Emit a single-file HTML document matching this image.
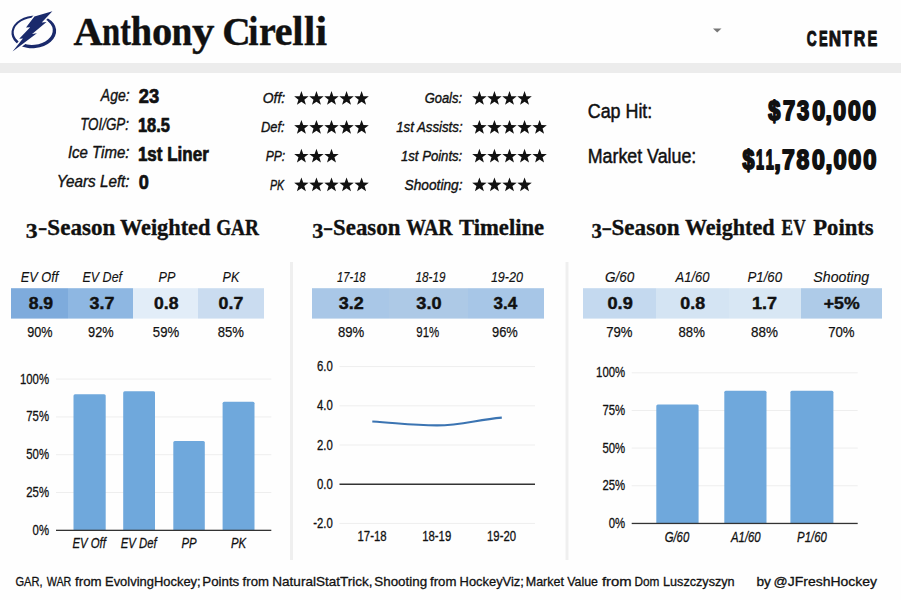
<!DOCTYPE html>
<html><head><meta charset="utf-8"><style>
html,body{margin:0;padding:0;background:#fff;width:901px;height:600px;overflow:hidden}
svg{display:block}
</style></head><body>
<svg width="901" height="600" viewBox="0 0 901 600">
<rect width="901" height="600" fill="#fefefe"/>
<rect x="0.00" y="63.00" width="901.00" height="10.00" fill="#ececec"/>
<g>
<g transform="rotate(-6 33.7 31.8)">
<ellipse cx="33.8" cy="31.9" rx="22.4" ry="16.3" fill="#1a2a6c"/>
<ellipse cx="33.3" cy="31.3" rx="19.6" ry="13.6" fill="#fefefe"/>
</g>
<path d="M52.4,11.2 L34.4,16.6 L26,27.6 L30.2,27.2 L19.2,38.8 L22.9,38.4 L12.6,51.6 L36.9,33.3 L32.1,33.9 L46.5,21.9 L41.7,22.4 Z" fill="#fefefe" stroke="#fefefe" stroke-width="3.2" stroke-linejoin="round"/>
<path d="M52.4,11.2 L34.4,16.6 L26,27.6 L30.2,27.2 L19.2,38.8 L22.9,38.4 L12.6,51.6 L36.9,33.3 L32.1,33.9 L46.5,21.9 L41.7,22.4 Z" fill="#1a2a6c"/>
</g>
<polygon points="713,28.6 721.5,28.6 717.2,32.6" fill="#777"/>
<path transform="translate(301.40,98.70)" d="M0.00,-7.60 L1.83,-2.52 L7.23,-2.35 L2.96,0.96 L4.47,6.15 L0.00,3.12 L-4.47,6.15 L-2.96,0.96 L-7.23,-2.35 L-1.83,-2.52 Z" fill="#111"/>
<path transform="translate(316.45,98.70)" d="M0.00,-7.60 L1.83,-2.52 L7.23,-2.35 L2.96,0.96 L4.47,6.15 L0.00,3.12 L-4.47,6.15 L-2.96,0.96 L-7.23,-2.35 L-1.83,-2.52 Z" fill="#111"/>
<path transform="translate(331.50,98.70)" d="M0.00,-7.60 L1.83,-2.52 L7.23,-2.35 L2.96,0.96 L4.47,6.15 L0.00,3.12 L-4.47,6.15 L-2.96,0.96 L-7.23,-2.35 L-1.83,-2.52 Z" fill="#111"/>
<path transform="translate(346.55,98.70)" d="M0.00,-7.60 L1.83,-2.52 L7.23,-2.35 L2.96,0.96 L4.47,6.15 L0.00,3.12 L-4.47,6.15 L-2.96,0.96 L-7.23,-2.35 L-1.83,-2.52 Z" fill="#111"/>
<path transform="translate(361.60,98.70)" d="M0.00,-7.60 L1.83,-2.52 L7.23,-2.35 L2.96,0.96 L4.47,6.15 L0.00,3.12 L-4.47,6.15 L-2.96,0.96 L-7.23,-2.35 L-1.83,-2.52 Z" fill="#111"/>
<path transform="translate(479.40,98.70)" d="M0.00,-7.60 L1.83,-2.52 L7.23,-2.35 L2.96,0.96 L4.47,6.15 L0.00,3.12 L-4.47,6.15 L-2.96,0.96 L-7.23,-2.35 L-1.83,-2.52 Z" fill="#111"/>
<path transform="translate(494.45,98.70)" d="M0.00,-7.60 L1.83,-2.52 L7.23,-2.35 L2.96,0.96 L4.47,6.15 L0.00,3.12 L-4.47,6.15 L-2.96,0.96 L-7.23,-2.35 L-1.83,-2.52 Z" fill="#111"/>
<path transform="translate(509.50,98.70)" d="M0.00,-7.60 L1.83,-2.52 L7.23,-2.35 L2.96,0.96 L4.47,6.15 L0.00,3.12 L-4.47,6.15 L-2.96,0.96 L-7.23,-2.35 L-1.83,-2.52 Z" fill="#111"/>
<path transform="translate(524.55,98.70)" d="M0.00,-7.60 L1.83,-2.52 L7.23,-2.35 L2.96,0.96 L4.47,6.15 L0.00,3.12 L-4.47,6.15 L-2.96,0.96 L-7.23,-2.35 L-1.83,-2.52 Z" fill="#111"/>
<path transform="translate(301.40,127.60)" d="M0.00,-7.60 L1.83,-2.52 L7.23,-2.35 L2.96,0.96 L4.47,6.15 L0.00,3.12 L-4.47,6.15 L-2.96,0.96 L-7.23,-2.35 L-1.83,-2.52 Z" fill="#111"/>
<path transform="translate(316.45,127.60)" d="M0.00,-7.60 L1.83,-2.52 L7.23,-2.35 L2.96,0.96 L4.47,6.15 L0.00,3.12 L-4.47,6.15 L-2.96,0.96 L-7.23,-2.35 L-1.83,-2.52 Z" fill="#111"/>
<path transform="translate(331.50,127.60)" d="M0.00,-7.60 L1.83,-2.52 L7.23,-2.35 L2.96,0.96 L4.47,6.15 L0.00,3.12 L-4.47,6.15 L-2.96,0.96 L-7.23,-2.35 L-1.83,-2.52 Z" fill="#111"/>
<path transform="translate(346.55,127.60)" d="M0.00,-7.60 L1.83,-2.52 L7.23,-2.35 L2.96,0.96 L4.47,6.15 L0.00,3.12 L-4.47,6.15 L-2.96,0.96 L-7.23,-2.35 L-1.83,-2.52 Z" fill="#111"/>
<path transform="translate(361.60,127.60)" d="M0.00,-7.60 L1.83,-2.52 L7.23,-2.35 L2.96,0.96 L4.47,6.15 L0.00,3.12 L-4.47,6.15 L-2.96,0.96 L-7.23,-2.35 L-1.83,-2.52 Z" fill="#111"/>
<path transform="translate(479.40,127.60)" d="M0.00,-7.60 L1.83,-2.52 L7.23,-2.35 L2.96,0.96 L4.47,6.15 L0.00,3.12 L-4.47,6.15 L-2.96,0.96 L-7.23,-2.35 L-1.83,-2.52 Z" fill="#111"/>
<path transform="translate(494.45,127.60)" d="M0.00,-7.60 L1.83,-2.52 L7.23,-2.35 L2.96,0.96 L4.47,6.15 L0.00,3.12 L-4.47,6.15 L-2.96,0.96 L-7.23,-2.35 L-1.83,-2.52 Z" fill="#111"/>
<path transform="translate(509.50,127.60)" d="M0.00,-7.60 L1.83,-2.52 L7.23,-2.35 L2.96,0.96 L4.47,6.15 L0.00,3.12 L-4.47,6.15 L-2.96,0.96 L-7.23,-2.35 L-1.83,-2.52 Z" fill="#111"/>
<path transform="translate(524.55,127.60)" d="M0.00,-7.60 L1.83,-2.52 L7.23,-2.35 L2.96,0.96 L4.47,6.15 L0.00,3.12 L-4.47,6.15 L-2.96,0.96 L-7.23,-2.35 L-1.83,-2.52 Z" fill="#111"/>
<path transform="translate(539.60,127.60)" d="M0.00,-7.60 L1.83,-2.52 L7.23,-2.35 L2.96,0.96 L4.47,6.15 L0.00,3.12 L-4.47,6.15 L-2.96,0.96 L-7.23,-2.35 L-1.83,-2.52 Z" fill="#111"/>
<path transform="translate(301.40,156.40)" d="M0.00,-7.60 L1.83,-2.52 L7.23,-2.35 L2.96,0.96 L4.47,6.15 L0.00,3.12 L-4.47,6.15 L-2.96,0.96 L-7.23,-2.35 L-1.83,-2.52 Z" fill="#111"/>
<path transform="translate(316.45,156.40)" d="M0.00,-7.60 L1.83,-2.52 L7.23,-2.35 L2.96,0.96 L4.47,6.15 L0.00,3.12 L-4.47,6.15 L-2.96,0.96 L-7.23,-2.35 L-1.83,-2.52 Z" fill="#111"/>
<path transform="translate(331.50,156.40)" d="M0.00,-7.60 L1.83,-2.52 L7.23,-2.35 L2.96,0.96 L4.47,6.15 L0.00,3.12 L-4.47,6.15 L-2.96,0.96 L-7.23,-2.35 L-1.83,-2.52 Z" fill="#111"/>
<path transform="translate(479.40,156.40)" d="M0.00,-7.60 L1.83,-2.52 L7.23,-2.35 L2.96,0.96 L4.47,6.15 L0.00,3.12 L-4.47,6.15 L-2.96,0.96 L-7.23,-2.35 L-1.83,-2.52 Z" fill="#111"/>
<path transform="translate(494.45,156.40)" d="M0.00,-7.60 L1.83,-2.52 L7.23,-2.35 L2.96,0.96 L4.47,6.15 L0.00,3.12 L-4.47,6.15 L-2.96,0.96 L-7.23,-2.35 L-1.83,-2.52 Z" fill="#111"/>
<path transform="translate(509.50,156.40)" d="M0.00,-7.60 L1.83,-2.52 L7.23,-2.35 L2.96,0.96 L4.47,6.15 L0.00,3.12 L-4.47,6.15 L-2.96,0.96 L-7.23,-2.35 L-1.83,-2.52 Z" fill="#111"/>
<path transform="translate(524.55,156.40)" d="M0.00,-7.60 L1.83,-2.52 L7.23,-2.35 L2.96,0.96 L4.47,6.15 L0.00,3.12 L-4.47,6.15 L-2.96,0.96 L-7.23,-2.35 L-1.83,-2.52 Z" fill="#111"/>
<path transform="translate(539.60,156.40)" d="M0.00,-7.60 L1.83,-2.52 L7.23,-2.35 L2.96,0.96 L4.47,6.15 L0.00,3.12 L-4.47,6.15 L-2.96,0.96 L-7.23,-2.35 L-1.83,-2.52 Z" fill="#111"/>
<path transform="translate(301.40,185.10)" d="M0.00,-7.60 L1.83,-2.52 L7.23,-2.35 L2.96,0.96 L4.47,6.15 L0.00,3.12 L-4.47,6.15 L-2.96,0.96 L-7.23,-2.35 L-1.83,-2.52 Z" fill="#111"/>
<path transform="translate(316.45,185.10)" d="M0.00,-7.60 L1.83,-2.52 L7.23,-2.35 L2.96,0.96 L4.47,6.15 L0.00,3.12 L-4.47,6.15 L-2.96,0.96 L-7.23,-2.35 L-1.83,-2.52 Z" fill="#111"/>
<path transform="translate(331.50,185.10)" d="M0.00,-7.60 L1.83,-2.52 L7.23,-2.35 L2.96,0.96 L4.47,6.15 L0.00,3.12 L-4.47,6.15 L-2.96,0.96 L-7.23,-2.35 L-1.83,-2.52 Z" fill="#111"/>
<path transform="translate(346.55,185.10)" d="M0.00,-7.60 L1.83,-2.52 L7.23,-2.35 L2.96,0.96 L4.47,6.15 L0.00,3.12 L-4.47,6.15 L-2.96,0.96 L-7.23,-2.35 L-1.83,-2.52 Z" fill="#111"/>
<path transform="translate(361.60,185.10)" d="M0.00,-7.60 L1.83,-2.52 L7.23,-2.35 L2.96,0.96 L4.47,6.15 L0.00,3.12 L-4.47,6.15 L-2.96,0.96 L-7.23,-2.35 L-1.83,-2.52 Z" fill="#111"/>
<path transform="translate(479.40,185.10)" d="M0.00,-7.60 L1.83,-2.52 L7.23,-2.35 L2.96,0.96 L4.47,6.15 L0.00,3.12 L-4.47,6.15 L-2.96,0.96 L-7.23,-2.35 L-1.83,-2.52 Z" fill="#111"/>
<path transform="translate(494.45,185.10)" d="M0.00,-7.60 L1.83,-2.52 L7.23,-2.35 L2.96,0.96 L4.47,6.15 L0.00,3.12 L-4.47,6.15 L-2.96,0.96 L-7.23,-2.35 L-1.83,-2.52 Z" fill="#111"/>
<path transform="translate(509.50,185.10)" d="M0.00,-7.60 L1.83,-2.52 L7.23,-2.35 L2.96,0.96 L4.47,6.15 L0.00,3.12 L-4.47,6.15 L-2.96,0.96 L-7.23,-2.35 L-1.83,-2.52 Z" fill="#111"/>
<path transform="translate(524.55,185.10)" d="M0.00,-7.60 L1.83,-2.52 L7.23,-2.35 L2.96,0.96 L4.47,6.15 L0.00,3.12 L-4.47,6.15 L-2.96,0.96 L-7.23,-2.35 L-1.83,-2.52 Z" fill="#111"/>
<rect x="290.00" y="262.00" width="3.00" height="298.00" fill="#efefef"/>
<rect x="565.50" y="262.00" width="3.00" height="298.00" fill="#efefef"/>
<rect x="11.00" y="288.20" width="57.00" height="30.40" fill="#7eabdc"/>
<rect x="68.00" y="288.20" width="65.00" height="30.40" fill="#8eb7e2"/>
<rect x="133.00" y="288.20" width="65.00" height="30.40" fill="#e2edf8"/>
<rect x="198.00" y="288.20" width="66.00" height="30.40" fill="#cadcf0"/>
<rect x="312.00" y="288.20" width="77.00" height="30.40" fill="#a9c7e7"/>
<rect x="389.00" y="288.20" width="79.00" height="30.40" fill="#adc9e6"/>
<rect x="468.00" y="288.20" width="76.00" height="30.40" fill="#a7c6e7"/>
<rect x="583.00" y="288.20" width="73.00" height="30.40" fill="#c4d9ef"/>
<rect x="656.00" y="288.20" width="73.00" height="30.40" fill="#d4e4f3"/>
<rect x="729.00" y="288.20" width="72.00" height="30.40" fill="#d8e7f4"/>
<rect x="801.00" y="288.20" width="81.00" height="30.40" fill="#aecbe8"/>
<rect x="56.00" y="492.00" width="215.30" height="1.00" fill="#eeeeee"/>
<rect x="56.00" y="454.20" width="215.30" height="1.00" fill="#eeeeee"/>
<rect x="56.00" y="416.40" width="215.30" height="1.00" fill="#eeeeee"/>
<rect x="56.00" y="378.60" width="215.30" height="1.00" fill="#eeeeee"/>
<path d="M73.5,530.3 V395.72 Q73.5,394.22 75.0,394.22 H104.2 Q105.7,394.22 105.7,395.72 V530.3 Z" fill="#6fa8dc"/>
<path d="M123.2,530.3 V392.70 Q123.2,391.20 124.7,391.20 H153.5 Q155,391.20 155,392.70 V530.3 Z" fill="#6fa8dc"/>
<path d="M173.3,530.3 V442.59 Q173.3,441.09 174.8,441.09 H203.3 Q204.8,441.09 204.8,442.59 V530.3 Z" fill="#6fa8dc"/>
<path d="M222.6,530.3 V403.28 Q222.6,401.78 224.1,401.78 H253.0 Q254.5,401.78 254.5,403.28 V530.3 Z" fill="#6fa8dc"/>
<rect x="56.00" y="529.70" width="215.30" height="1.30" fill="#333"/>
<rect x="631.70" y="485.25" width="226.00" height="1.00" fill="#eeeeee"/>
<rect x="631.70" y="447.60" width="226.00" height="1.00" fill="#eeeeee"/>
<rect x="631.70" y="409.95" width="226.00" height="1.00" fill="#eeeeee"/>
<rect x="631.70" y="372.30" width="226.00" height="1.00" fill="#eeeeee"/>
<path d="M656.3,523.4 V405.93 Q656.3,404.43 657.8,404.43 H697.1 Q698.6,404.43 698.6,405.93 V523.4 Z" fill="#6fa8dc"/>
<path d="M724.3,523.4 V392.37 Q724.3,390.87 725.8,390.87 H765.0 Q766.5,390.87 766.5,392.37 V523.4 Z" fill="#6fa8dc"/>
<path d="M790.4,523.4 V392.37 Q790.4,390.87 791.9,390.87 H831.9 Q833.4,390.87 833.4,392.37 V523.4 Z" fill="#6fa8dc"/>
<rect x="631.70" y="522.80" width="226.00" height="1.30" fill="#333"/>
<rect x="339.50" y="366.10" width="195.50" height="1.00" fill="#eeeeee"/>
<rect x="339.50" y="405.30" width="195.50" height="1.00" fill="#eeeeee"/>
<rect x="339.50" y="444.50" width="195.50" height="1.00" fill="#eeeeee"/>
<rect x="339.50" y="522.90" width="195.50" height="1.00" fill="#eeeeee"/>
<rect x="339.50" y="483.50" width="195.50" height="1.50" fill="#333"/>
<path d="M372.3,421.5 C397.3,423.0 412,425.4 437,425.4 C462,425.4 476.8,419.6 501.8,417.6" fill="none" stroke="#3b74b2" stroke-width="2.2"/>
<text x="100.85" y="101.00" font-family='"Liberation Sans", sans-serif' font-size="16.5" font-style="italic" stroke="#111" stroke-width="0.4" stroke-linejoin="round" fill="#111" textLength="28.76" lengthAdjust="spacingAndGlyphs">Age:</text>
<text x="80.19" y="129.60" font-family='"Liberation Sans", sans-serif' font-size="16.5" font-style="italic" stroke="#111" stroke-width="0.4" stroke-linejoin="round" fill="#111" textLength="48.79" lengthAdjust="spacingAndGlyphs">TOI/GP:</text>
<text x="67.89" y="158.40" font-family='"Liberation Sans", sans-serif' font-size="16.5" font-style="italic" stroke="#111" stroke-width="0.4" stroke-linejoin="round" fill="#111" textLength="61.55" lengthAdjust="spacingAndGlyphs">Ice Time:</text>
<text x="56.65" y="187.00" font-family='"Liberation Sans", sans-serif' font-size="16.5" font-style="italic" stroke="#111" stroke-width="0.4" stroke-linejoin="round" fill="#111" textLength="72.97" lengthAdjust="spacingAndGlyphs">Years Left:</text>
<text x="138.80" y="103.40" font-family='"Liberation Sans", sans-serif' font-size="19.5" font-weight="bold" stroke="#111" stroke-width="0.7" stroke-linejoin="round" fill="#111" textLength="20.36" lengthAdjust="spacingAndGlyphs">23</text>
<text x="137.96" y="132.00" font-family='"Liberation Sans", sans-serif' font-size="19.5" font-weight="bold" stroke="#111" stroke-width="0.7" stroke-linejoin="round" fill="#111" textLength="32.00" lengthAdjust="spacingAndGlyphs">18.5</text>
<text x="137.93" y="160.80" font-family='"Liberation Sans", sans-serif' font-size="19.5" font-weight="bold" stroke="#111" stroke-width="0.7" stroke-linejoin="round" fill="#111" textLength="70.82" lengthAdjust="spacingAndGlyphs">1st Liner</text>
<text x="138.80" y="189.40" font-family='"Liberation Sans", sans-serif' font-size="19.5" font-weight="bold" stroke="#111" stroke-width="0.7" stroke-linejoin="round" fill="#111" textLength="10.10" lengthAdjust="spacingAndGlyphs">0</text>
<text x="262.79" y="103.30" font-family='"Liberation Sans", sans-serif' font-size="15.3" font-style="italic" stroke="#111" stroke-width="0.4" stroke-linejoin="round" fill="#111" textLength="22.41" lengthAdjust="spacingAndGlyphs">Off:</text>
<text x="424.65" y="103.30" font-family='"Liberation Sans", sans-serif' font-size="15.3" font-style="italic" stroke="#111" stroke-width="0.4" stroke-linejoin="round" fill="#111" textLength="37.43" lengthAdjust="spacingAndGlyphs">Goals:</text>
<text x="261.00" y="132.20" font-family='"Liberation Sans", sans-serif' font-size="15.3" font-style="italic" stroke="#111" stroke-width="0.4" stroke-linejoin="round" fill="#111" textLength="23.65" lengthAdjust="spacingAndGlyphs">Def:</text>
<text x="396.20" y="132.20" font-family='"Liberation Sans", sans-serif' font-size="15.3" font-style="italic" stroke="#111" stroke-width="0.4" stroke-linejoin="round" fill="#111" textLength="66.39" lengthAdjust="spacingAndGlyphs">1st Assists:</text>
<text x="265.70" y="161.00" font-family='"Liberation Sans", sans-serif' font-size="15.3" font-style="italic" stroke="#111" stroke-width="0.4" stroke-linejoin="round" fill="#111" textLength="19.42" lengthAdjust="spacingAndGlyphs">PP:</text>
<text x="401.00" y="161.00" font-family='"Liberation Sans", sans-serif' font-size="15.3" font-style="italic" stroke="#111" stroke-width="0.4" stroke-linejoin="round" fill="#111" textLength="61.26" lengthAdjust="spacingAndGlyphs">1st Points:</text>
<text x="270.00" y="189.70" font-family='"Liberation Sans", sans-serif' font-size="15.3" font-style="italic" stroke="#111" stroke-width="0.4" stroke-linejoin="round" fill="#111" textLength="14.19" lengthAdjust="spacingAndGlyphs">PK</text>
<text x="404.60" y="189.70" font-family='"Liberation Sans", sans-serif' font-size="15.3" font-style="italic" stroke="#111" stroke-width="0.4" stroke-linejoin="round" fill="#111" textLength="57.87" lengthAdjust="spacingAndGlyphs">Shooting:</text>
<text x="587.73" y="118.20" font-family='"Liberation Sans", sans-serif' font-size="20.5" stroke="#111" stroke-width="0.5" stroke-linejoin="round" fill="#111" textLength="64.57" lengthAdjust="spacingAndGlyphs">Cap Hit:</text>
<text x="587.73" y="163.00" font-family='"Liberation Sans", sans-serif' font-size="20.5" stroke="#111" stroke-width="0.5" stroke-linejoin="round" fill="#111" textLength="108.57" lengthAdjust="spacingAndGlyphs">Market Value:</text>
<text x="73.60" y="44.60" font-family='"Liberation Serif", serif' font-size="40.5" font-weight="bold" stroke="#111" stroke-width="0.4" stroke-linejoin="round" fill="#111" textLength="29.15" lengthAdjust="spacingAndGlyphs">A</text>
<text transform="translate(101.99,44.60) scale(0.8095,1.05)" font-family='"Liberation Serif", serif' font-size="40.5" font-weight="bold" stroke="#111" stroke-width="0.4" stroke-linejoin="round" fill="#111">n</text>
<text transform="translate(120.20,44.60) scale(0.7929,1.05)" font-family='"Liberation Serif", serif' font-size="40.5" font-weight="bold" stroke="#111" stroke-width="0.4" stroke-linejoin="round" fill="#111">t</text>
<text transform="translate(130.65,44.60) scale(0.9476,1.05)" font-family='"Liberation Serif", serif' font-size="40.5" font-weight="bold" stroke="#111" stroke-width="0.4" stroke-linejoin="round" fill="#111">h</text>
<text transform="translate(152.00,44.60) scale(1.0000,1.05)" font-family='"Liberation Serif", serif' font-size="40.5" font-weight="bold" stroke="#111" stroke-width="0.4" stroke-linejoin="round" fill="#111">o</text>
<text transform="translate(171.58,44.60) scale(0.9238,1.05)" font-family='"Liberation Serif", serif' font-size="40.5" font-weight="bold" stroke="#111" stroke-width="0.4" stroke-linejoin="round" fill="#111">n</text>
<text transform="translate(191.90,44.60) scale(1.1100,1.05)" font-family='"Liberation Serif", serif' font-size="40.5" font-weight="bold" stroke="#111" stroke-width="0.4" stroke-linejoin="round" fill="#111">y</text>
<text x="222.16" y="44.60" font-family='"Liberation Serif", serif' font-size="40.5" font-weight="bold" stroke="#111" stroke-width="0.4" stroke-linejoin="round" fill="#111" textLength="28.40" lengthAdjust="spacingAndGlyphs">C</text>
<text transform="translate(248.19,44.60) scale(0.9100,1.05)" font-family='"Liberation Serif", serif' font-size="40.5" font-weight="bold" stroke="#111" stroke-width="0.4" stroke-linejoin="round" fill="#111">i</text>
<text transform="translate(258.96,44.60) scale(0.9375,1.05)" font-family='"Liberation Serif", serif' font-size="40.5" font-weight="bold" stroke="#111" stroke-width="0.4" stroke-linejoin="round" fill="#111">r</text>
<text transform="translate(274.71,44.60) scale(0.9875,1.05)" font-family='"Liberation Serif", serif' font-size="40.5" font-weight="bold" stroke="#111" stroke-width="0.4" stroke-linejoin="round" fill="#111">e</text>
<text transform="translate(292.20,44.60) scale(1.0000,1.05)" font-family='"Liberation Serif", serif' font-size="40.5" font-weight="bold" stroke="#111" stroke-width="0.4" stroke-linejoin="round" fill="#111">l</text>
<text transform="translate(303.90,44.60) scale(1.0000,1.05)" font-family='"Liberation Serif", serif' font-size="40.5" font-weight="bold" stroke="#111" stroke-width="0.4" stroke-linejoin="round" fill="#111">l</text>
<text transform="translate(315.47,44.60) scale(1.0300,1.05)" font-family='"Liberation Serif", serif' font-size="40.5" font-weight="bold" stroke="#111" stroke-width="0.4" stroke-linejoin="round" fill="#111">i</text>
<text x="806.80" y="45.90" font-family='"Liberation Sans", sans-serif' font-size="22" font-weight="bold" stroke="#111" stroke-width="1.0" stroke-linejoin="round" fill="#111" textLength="9.93" lengthAdjust="spacingAndGlyphs">C</text>
<text x="819.01" y="45.90" font-family='"Liberation Sans", sans-serif' font-size="22" font-weight="bold" stroke="#111" stroke-width="1.0" stroke-linejoin="round" fill="#111" textLength="8.70" lengthAdjust="spacingAndGlyphs">E</text>
<text x="828.82" y="45.90" font-family='"Liberation Sans", sans-serif' font-size="22" font-weight="bold" stroke="#111" stroke-width="1.0" stroke-linejoin="round" fill="#111" textLength="12.37" lengthAdjust="spacingAndGlyphs">N</text>
<text x="842.30" y="45.90" font-family='"Liberation Sans", sans-serif' font-size="22" font-weight="bold" stroke="#111" stroke-width="1.0" stroke-linejoin="round" fill="#111" textLength="9.61" lengthAdjust="spacingAndGlyphs">T</text>
<text x="853.87" y="45.90" font-family='"Liberation Sans", sans-serif' font-size="22" font-weight="bold" stroke="#111" stroke-width="1.0" stroke-linejoin="round" fill="#111" textLength="11.55" lengthAdjust="spacingAndGlyphs">R</text>
<text x="867.53" y="45.90" font-family='"Liberation Sans", sans-serif' font-size="22" font-weight="bold" stroke="#111" stroke-width="1.0" stroke-linejoin="round" fill="#111" textLength="9.83" lengthAdjust="spacingAndGlyphs">E</text>
<text x="768.20" y="119.70" font-family='"Liberation Sans", sans-serif' font-size="27.2" font-weight="bold" stroke="#111" stroke-width="1.9" stroke-linejoin="round" fill="#111" textLength="12.10" lengthAdjust="spacingAndGlyphs">$</text>
<text x="782.90" y="119.70" font-family='"Liberation Sans", sans-serif' font-size="27.2" font-weight="bold" stroke="#111" stroke-width="1.9" stroke-linejoin="round" fill="#111" textLength="12.20" lengthAdjust="spacingAndGlyphs">7</text>
<text x="796.90" y="119.70" font-family='"Liberation Sans", sans-serif' font-size="27.2" font-weight="bold" stroke="#111" stroke-width="1.9" stroke-linejoin="round" fill="#111" textLength="12.20" lengthAdjust="spacingAndGlyphs">3</text>
<text x="812.20" y="119.70" font-family='"Liberation Sans", sans-serif' font-size="27.2" font-weight="bold" stroke="#111" stroke-width="1.9" stroke-linejoin="round" fill="#111" textLength="12.91" lengthAdjust="spacingAndGlyphs">0</text>
<text x="825.45" y="119.70" font-family='"Liberation Sans", sans-serif' font-size="27.2" font-weight="bold" stroke="#111" stroke-width="1.9" stroke-linejoin="round" fill="#111" textLength="6.43" lengthAdjust="spacingAndGlyphs">,</text>
<text x="833.30" y="119.70" font-family='"Liberation Sans", sans-serif' font-size="27.2" font-weight="bold" stroke="#111" stroke-width="1.9" stroke-linejoin="round" fill="#111" textLength="12.81" lengthAdjust="spacingAndGlyphs">0</text>
<text x="848.00" y="119.70" font-family='"Liberation Sans", sans-serif' font-size="27.2" font-weight="bold" stroke="#111" stroke-width="1.9" stroke-linejoin="round" fill="#111" textLength="12.81" lengthAdjust="spacingAndGlyphs">0</text>
<text x="862.60" y="119.70" font-family='"Liberation Sans", sans-serif' font-size="27.2" font-weight="bold" stroke="#111" stroke-width="1.9" stroke-linejoin="round" fill="#111" textLength="13.51" lengthAdjust="spacingAndGlyphs">0</text>
<text x="742.40" y="168.80" font-family='"Liberation Sans", sans-serif' font-size="27.2" font-weight="bold" stroke="#111" stroke-width="1.9" stroke-linejoin="round" fill="#111" textLength="11.91" lengthAdjust="spacingAndGlyphs">$</text>
<text x="756.07" y="168.80" font-family='"Liberation Sans", sans-serif' font-size="27.2" font-weight="bold" stroke="#111" stroke-width="1.9" stroke-linejoin="round" fill="#111" textLength="7.99" lengthAdjust="spacingAndGlyphs">1</text>
<text x="765.86" y="168.80" font-family='"Liberation Sans", sans-serif' font-size="27.2" font-weight="bold" stroke="#111" stroke-width="1.9" stroke-linejoin="round" fill="#111" textLength="8.10" lengthAdjust="spacingAndGlyphs">1</text>
<text x="774.13" y="168.80" font-family='"Liberation Sans", sans-serif' font-size="27.2" font-weight="bold" stroke="#111" stroke-width="1.9" stroke-linejoin="round" fill="#111" textLength="6.55" lengthAdjust="spacingAndGlyphs">,</text>
<text x="782.10" y="168.80" font-family='"Liberation Sans", sans-serif' font-size="27.2" font-weight="bold" stroke="#111" stroke-width="1.9" stroke-linejoin="round" fill="#111" textLength="12.71" lengthAdjust="spacingAndGlyphs">7</text>
<text x="796.60" y="168.80" font-family='"Liberation Sans", sans-serif' font-size="27.2" font-weight="bold" stroke="#111" stroke-width="1.9" stroke-linejoin="round" fill="#111" textLength="12.71" lengthAdjust="spacingAndGlyphs">8</text>
<text x="812.00" y="168.80" font-family='"Liberation Sans", sans-serif' font-size="27.2" font-weight="bold" stroke="#111" stroke-width="1.9" stroke-linejoin="round" fill="#111" textLength="12.81" lengthAdjust="spacingAndGlyphs">0</text>
<text x="825.38" y="168.80" font-family='"Liberation Sans", sans-serif' font-size="27.2" font-weight="bold" stroke="#111" stroke-width="1.9" stroke-linejoin="round" fill="#111" textLength="6.93" lengthAdjust="spacingAndGlyphs">,</text>
<text x="833.40" y="168.80" font-family='"Liberation Sans", sans-serif' font-size="27.2" font-weight="bold" stroke="#111" stroke-width="1.9" stroke-linejoin="round" fill="#111" textLength="13.11" lengthAdjust="spacingAndGlyphs">0</text>
<text x="848.30" y="168.80" font-family='"Liberation Sans", sans-serif' font-size="27.2" font-weight="bold" stroke="#111" stroke-width="1.9" stroke-linejoin="round" fill="#111" textLength="13.01" lengthAdjust="spacingAndGlyphs">0</text>
<text x="863.30" y="168.80" font-family='"Liberation Sans", sans-serif' font-size="27.2" font-weight="bold" stroke="#111" stroke-width="1.9" stroke-linejoin="round" fill="#111" textLength="13.21" lengthAdjust="spacingAndGlyphs">0</text>
<text x="25.74" y="237.60" font-family='"Liberation Serif", serif' font-size="20.5" font-weight="bold" stroke="#111" stroke-width="0.35" stroke-linejoin="round" fill="#111" textLength="11.84" lengthAdjust="spacingAndGlyphs">3</text>
<text x="38.13" y="233.60" font-family='"Liberation Serif", serif' font-size="22" font-weight="bold" stroke="#111" stroke-width="0.35" stroke-linejoin="round" fill="#111" textLength="9.28" lengthAdjust="spacingAndGlyphs">-</text>
<text x="47.36" y="234.50" font-family='"Liberation Serif", serif' font-size="22.3" font-weight="bold" stroke="#111" stroke-width="0.35" stroke-linejoin="round" fill="#111" textLength="68.00" lengthAdjust="spacingAndGlyphs">Season</text>
<text x="119.90" y="234.50" font-family='"Liberation Serif", serif' font-size="22.3" font-weight="bold" stroke="#111" stroke-width="0.35" stroke-linejoin="round" fill="#111" textLength="90.54" lengthAdjust="spacingAndGlyphs">Weighted</text>
<text x="216.14" y="234.50" font-family='"Liberation Serif", serif' font-size="22.3" font-weight="bold" stroke="#111" stroke-width="0.35" stroke-linejoin="round" fill="#111" textLength="42.79" lengthAdjust="spacingAndGlyphs">GAR</text>
<text x="312.22" y="237.60" font-family='"Liberation Serif", serif' font-size="20.5" font-weight="bold" stroke="#111" stroke-width="0.35" stroke-linejoin="round" fill="#111" textLength="11.05" lengthAdjust="spacingAndGlyphs">3</text>
<text x="323.02" y="233.60" font-family='"Liberation Serif", serif' font-size="22" font-weight="bold" stroke="#111" stroke-width="0.35" stroke-linejoin="round" fill="#111" textLength="10.14" lengthAdjust="spacingAndGlyphs">-</text>
<text x="333.08" y="234.50" font-family='"Liberation Serif", serif' font-size="22.3" font-weight="bold" stroke="#111" stroke-width="0.35" stroke-linejoin="round" fill="#111" textLength="67.29" lengthAdjust="spacingAndGlyphs">Season</text>
<text x="406.30" y="234.50" font-family='"Liberation Serif", serif' font-size="22.3" font-weight="bold" stroke="#111" stroke-width="0.35" stroke-linejoin="round" fill="#111" textLength="46.24" lengthAdjust="spacingAndGlyphs">WAR</text>
<text x="459.00" y="234.50" font-family='"Liberation Serif", serif' font-size="22.3" font-weight="bold" stroke="#111" stroke-width="0.35" stroke-linejoin="round" fill="#111" textLength="85.13" lengthAdjust="spacingAndGlyphs">Timeline</text>
<text x="591.49" y="237.60" font-family='"Liberation Serif", serif' font-size="20.5" font-weight="bold" stroke="#111" stroke-width="0.35" stroke-linejoin="round" fill="#111" textLength="10.36" lengthAdjust="spacingAndGlyphs">3</text>
<text x="601.57" y="233.60" font-family='"Liberation Serif", serif' font-size="22" font-weight="bold" stroke="#111" stroke-width="0.35" stroke-linejoin="round" fill="#111" textLength="10.50" lengthAdjust="spacingAndGlyphs">-</text>
<text x="611.46" y="234.50" font-family='"Liberation Serif", serif' font-size="22.3" font-weight="bold" stroke="#111" stroke-width="0.35" stroke-linejoin="round" fill="#111" textLength="68.10" lengthAdjust="spacingAndGlyphs">Season</text>
<text x="684.90" y="234.50" font-family='"Liberation Serif", serif' font-size="22.3" font-weight="bold" stroke="#111" stroke-width="0.35" stroke-linejoin="round" fill="#111" textLength="89.63" lengthAdjust="spacingAndGlyphs">Weighted</text>
<text x="781.60" y="234.50" font-family='"Liberation Serif", serif' font-size="22.3" font-weight="bold" stroke="#111" stroke-width="0.35" stroke-linejoin="round" fill="#111" textLength="24.09" lengthAdjust="spacingAndGlyphs">EV</text>
<text x="813.20" y="234.50" font-family='"Liberation Serif", serif' font-size="22.3" font-weight="bold" stroke="#111" stroke-width="0.35" stroke-linejoin="round" fill="#111" textLength="60.48" lengthAdjust="spacingAndGlyphs">Points</text>
<text x="20.65" y="281.70" font-family='"Liberation Sans", sans-serif' font-size="15" font-style="italic" stroke="#111" stroke-width="0.15" stroke-linejoin="round" fill="#111" textLength="37.61" lengthAdjust="spacingAndGlyphs">EV Off</text>
<text x="28.70" y="309.40" font-family='"Liberation Sans", sans-serif' font-size="16.8" font-weight="bold" stroke="#111" stroke-width="0.45" stroke-linejoin="round" fill="#111" textLength="24.46" lengthAdjust="spacingAndGlyphs">8.9</text>
<text x="27.17" y="336.60" font-family='"Liberation Sans", sans-serif' font-size="15.3" stroke="#111" stroke-width="0.25" stroke-linejoin="round" fill="#111" textLength="25.34" lengthAdjust="spacingAndGlyphs">90%</text>
<text x="82.47" y="281.70" font-family='"Liberation Sans", sans-serif' font-size="15" font-style="italic" stroke="#111" stroke-width="0.15" stroke-linejoin="round" fill="#111" textLength="39.61" lengthAdjust="spacingAndGlyphs">EV Def</text>
<text x="89.50" y="309.40" font-family='"Liberation Sans", sans-serif' font-size="16.8" font-weight="bold" stroke="#111" stroke-width="0.45" stroke-linejoin="round" fill="#111" textLength="24.87" lengthAdjust="spacingAndGlyphs">3.7</text>
<text x="88.07" y="336.60" font-family='"Liberation Sans", sans-serif' font-size="15.3" stroke="#111" stroke-width="0.25" stroke-linejoin="round" fill="#111" textLength="25.56" lengthAdjust="spacingAndGlyphs">92%</text>
<text x="158.56" y="281.70" font-family='"Liberation Sans", sans-serif' font-size="15" font-style="italic" stroke="#111" stroke-width="0.15" stroke-linejoin="round" fill="#111" textLength="16.86" lengthAdjust="spacingAndGlyphs">PP</text>
<text x="154.10" y="309.40" font-family='"Liberation Sans", sans-serif' font-size="16.8" font-weight="bold" stroke="#111" stroke-width="0.45" stroke-linejoin="round" fill="#111" textLength="24.46" lengthAdjust="spacingAndGlyphs">0.8</text>
<text x="152.84" y="336.60" font-family='"Liberation Sans", sans-serif' font-size="15.3" stroke="#111" stroke-width="0.25" stroke-linejoin="round" fill="#111" textLength="26.30" lengthAdjust="spacingAndGlyphs">59%</text>
<text x="222.56" y="281.70" font-family='"Liberation Sans", sans-serif' font-size="15" font-style="italic" stroke="#111" stroke-width="0.15" stroke-linejoin="round" fill="#111" textLength="16.75" lengthAdjust="spacingAndGlyphs">PK</text>
<text x="218.60" y="309.40" font-family='"Liberation Sans", sans-serif' font-size="16.8" font-weight="bold" stroke="#111" stroke-width="0.45" stroke-linejoin="round" fill="#111" textLength="24.66" lengthAdjust="spacingAndGlyphs">0.7</text>
<text x="217.74" y="336.60" font-family='"Liberation Sans", sans-serif' font-size="15.3" stroke="#111" stroke-width="0.25" stroke-linejoin="round" fill="#111" textLength="26.19" lengthAdjust="spacingAndGlyphs">85%</text>
<text x="337.00" y="281.70" font-family='"Liberation Sans", sans-serif' font-size="15" font-style="italic" stroke="#111" stroke-width="0.15" stroke-linejoin="round" fill="#111" textLength="28.58" lengthAdjust="spacingAndGlyphs">17-18</text>
<text x="338.80" y="309.40" font-family='"Liberation Sans", sans-serif' font-size="16.8" font-weight="bold" stroke="#111" stroke-width="0.45" stroke-linejoin="round" fill="#111" textLength="24.97" lengthAdjust="spacingAndGlyphs">3.2</text>
<text x="337.94" y="336.60" font-family='"Liberation Sans", sans-serif' font-size="15.3" stroke="#111" stroke-width="0.25" stroke-linejoin="round" fill="#111" textLength="26.30" lengthAdjust="spacingAndGlyphs">89%</text>
<text x="415.50" y="281.70" font-family='"Liberation Sans", sans-serif' font-size="15" font-style="italic" stroke="#111" stroke-width="0.15" stroke-linejoin="round" fill="#111" textLength="29.89" lengthAdjust="spacingAndGlyphs">18-19</text>
<text x="416.30" y="309.40" font-family='"Liberation Sans", sans-serif' font-size="16.8" font-weight="bold" stroke="#111" stroke-width="0.45" stroke-linejoin="round" fill="#111" textLength="25.27" lengthAdjust="spacingAndGlyphs">3.0</text>
<text x="416.35" y="336.60" font-family='"Liberation Sans", sans-serif' font-size="15.3" stroke="#111" stroke-width="0.25" stroke-linejoin="round" fill="#111" textLength="22.92" lengthAdjust="spacingAndGlyphs">91%</text>
<text x="490.90" y="281.70" font-family='"Liberation Sans", sans-serif' font-size="15" font-style="italic" stroke="#111" stroke-width="0.15" stroke-linejoin="round" fill="#111" textLength="32.11" lengthAdjust="spacingAndGlyphs">19-20</text>
<text x="493.50" y="309.40" font-family='"Liberation Sans", sans-serif' font-size="16.8" font-weight="bold" stroke="#111" stroke-width="0.45" stroke-linejoin="round" fill="#111" textLength="23.64" lengthAdjust="spacingAndGlyphs">3.4</text>
<text x="492.06" y="336.60" font-family='"Liberation Sans", sans-serif' font-size="15.3" stroke="#111" stroke-width="0.25" stroke-linejoin="round" fill="#111" textLength="25.77" lengthAdjust="spacingAndGlyphs">96%</text>
<text x="604.90" y="281.70" font-family='"Liberation Sans", sans-serif' font-size="15" font-style="italic" stroke="#111" stroke-width="0.15" stroke-linejoin="round" fill="#111" textLength="29.38" lengthAdjust="spacingAndGlyphs">G/60</text>
<text x="607.50" y="309.40" font-family='"Liberation Sans", sans-serif' font-size="16.8" font-weight="bold" stroke="#111" stroke-width="0.45" stroke-linejoin="round" fill="#111" textLength="25.27" lengthAdjust="spacingAndGlyphs">0.9</text>
<text x="606.14" y="336.60" font-family='"Liberation Sans", sans-serif' font-size="15.3" stroke="#111" stroke-width="0.25" stroke-linejoin="round" fill="#111" textLength="26.30" lengthAdjust="spacingAndGlyphs">79%</text>
<text x="675.50" y="281.70" font-family='"Liberation Sans", sans-serif' font-size="15" font-style="italic" stroke="#111" stroke-width="0.15" stroke-linejoin="round" fill="#111" textLength="33.98" lengthAdjust="spacingAndGlyphs">A1/60</text>
<text x="680.30" y="309.40" font-family='"Liberation Sans", sans-serif' font-size="16.8" font-weight="bold" stroke="#111" stroke-width="0.45" stroke-linejoin="round" fill="#111" textLength="24.76" lengthAdjust="spacingAndGlyphs">0.8</text>
<text x="678.54" y="336.60" font-family='"Liberation Sans", sans-serif' font-size="15.3" stroke="#111" stroke-width="0.25" stroke-linejoin="round" fill="#111" textLength="26.30" lengthAdjust="spacingAndGlyphs">88%</text>
<text x="747.42" y="281.70" font-family='"Liberation Sans", sans-serif' font-size="15" font-style="italic" stroke="#111" stroke-width="0.15" stroke-linejoin="round" fill="#111" textLength="34.66" lengthAdjust="spacingAndGlyphs">P1/60</text>
<text x="751.93" y="309.40" font-family='"Liberation Sans", sans-serif' font-size="16.8" font-weight="bold" stroke="#111" stroke-width="0.45" stroke-linejoin="round" fill="#111" textLength="25.04" lengthAdjust="spacingAndGlyphs">1.7</text>
<text x="751.12" y="336.60" font-family='"Liberation Sans", sans-serif' font-size="15.3" stroke="#111" stroke-width="0.25" stroke-linejoin="round" fill="#111" textLength="26.93" lengthAdjust="spacingAndGlyphs">88%</text>
<text x="813.36" y="281.70" font-family='"Liberation Sans", sans-serif' font-size="15" font-style="italic" stroke="#111" stroke-width="0.15" stroke-linejoin="round" fill="#111" textLength="55.85" lengthAdjust="spacingAndGlyphs">Shooting</text>
<text x="823.80" y="309.40" font-family='"Liberation Sans", sans-serif' font-size="16.8" font-weight="bold" stroke="#111" stroke-width="0.45" stroke-linejoin="round" fill="#111" textLength="35.87" lengthAdjust="spacingAndGlyphs">+5%</text>
<text x="828.14" y="336.60" font-family='"Liberation Sans", sans-serif' font-size="15.3" stroke="#111" stroke-width="0.25" stroke-linejoin="round" fill="#111" textLength="26.40" lengthAdjust="spacingAndGlyphs">70%</text>
<text transform="translate(49.00,534.80) scale(0.8,1)" text-anchor="end" font-family='"Liberation Sans", sans-serif' font-size="14.2" stroke="#111" stroke-width="0.3" stroke-linejoin="round" fill="#111">0%</text>
<text transform="translate(49.00,497.00) scale(0.8,1)" text-anchor="end" font-family='"Liberation Sans", sans-serif' font-size="14.2" stroke="#111" stroke-width="0.3" stroke-linejoin="round" fill="#111">25%</text>
<text transform="translate(49.00,459.20) scale(0.8,1)" text-anchor="end" font-family='"Liberation Sans", sans-serif' font-size="14.2" stroke="#111" stroke-width="0.3" stroke-linejoin="round" fill="#111">50%</text>
<text transform="translate(49.00,421.40) scale(0.8,1)" text-anchor="end" font-family='"Liberation Sans", sans-serif' font-size="14.2" stroke="#111" stroke-width="0.3" stroke-linejoin="round" fill="#111">75%</text>
<text transform="translate(49.00,383.60) scale(0.8,1)" text-anchor="end" font-family='"Liberation Sans", sans-serif' font-size="14.2" stroke="#111" stroke-width="0.3" stroke-linejoin="round" fill="#111">100%</text>
<text x="72.40" y="547.50" font-family='"Liberation Sans", sans-serif' font-size="14.2" font-style="italic" stroke="#111" stroke-width="0.3" stroke-linejoin="round" fill="#111" textLength="33.44" lengthAdjust="spacingAndGlyphs">EV Off</text>
<text x="120.70" y="547.50" font-family='"Liberation Sans", sans-serif' font-size="14.2" font-style="italic" stroke="#111" stroke-width="0.3" stroke-linejoin="round" fill="#111" textLength="35.96" lengthAdjust="spacingAndGlyphs">EV Def</text>
<text x="181.45" y="547.50" font-family='"Liberation Sans", sans-serif' font-size="14.2" font-style="italic" stroke="#111" stroke-width="0.3" stroke-linejoin="round" fill="#111" textLength="15.15" lengthAdjust="spacingAndGlyphs">PP</text>
<text x="230.95" y="547.50" font-family='"Liberation Sans", sans-serif' font-size="14.2" font-style="italic" stroke="#111" stroke-width="0.3" stroke-linejoin="round" fill="#111" textLength="15.15" lengthAdjust="spacingAndGlyphs">PK</text>
<text transform="translate(625.10,527.90) scale(0.8,1)" text-anchor="end" font-family='"Liberation Sans", sans-serif' font-size="14.2" stroke="#111" stroke-width="0.3" stroke-linejoin="round" fill="#111">0%</text>
<text transform="translate(625.10,490.25) scale(0.8,1)" text-anchor="end" font-family='"Liberation Sans", sans-serif' font-size="14.2" stroke="#111" stroke-width="0.3" stroke-linejoin="round" fill="#111">25%</text>
<text transform="translate(625.10,452.60) scale(0.8,1)" text-anchor="end" font-family='"Liberation Sans", sans-serif' font-size="14.2" stroke="#111" stroke-width="0.3" stroke-linejoin="round" fill="#111">50%</text>
<text transform="translate(625.10,414.95) scale(0.8,1)" text-anchor="end" font-family='"Liberation Sans", sans-serif' font-size="14.2" stroke="#111" stroke-width="0.3" stroke-linejoin="round" fill="#111">75%</text>
<text transform="translate(625.10,377.30) scale(0.8,1)" text-anchor="end" font-family='"Liberation Sans", sans-serif' font-size="14.2" stroke="#111" stroke-width="0.3" stroke-linejoin="round" fill="#111">100%</text>
<text x="664.65" y="541.80" font-family='"Liberation Sans", sans-serif' font-size="14.2" font-style="italic" stroke="#111" stroke-width="0.3" stroke-linejoin="round" fill="#111" textLength="24.61" lengthAdjust="spacingAndGlyphs">G/60</text>
<text x="731.00" y="541.80" font-family='"Liberation Sans", sans-serif' font-size="14.2" font-style="italic" stroke="#111" stroke-width="0.3" stroke-linejoin="round" fill="#111" textLength="29.66" lengthAdjust="spacingAndGlyphs">A1/60</text>
<text x="797.10" y="541.80" font-family='"Liberation Sans", sans-serif' font-size="14.2" font-style="italic" stroke="#111" stroke-width="0.3" stroke-linejoin="round" fill="#111" textLength="29.66" lengthAdjust="spacingAndGlyphs">P1/60</text>
<text transform="translate(332.70,371.10) scale(0.8,1)" text-anchor="end" font-family='"Liberation Sans", sans-serif' font-size="14.2" stroke="#111" stroke-width="0.3" stroke-linejoin="round" fill="#111">6.0</text>
<text transform="translate(332.70,410.30) scale(0.8,1)" text-anchor="end" font-family='"Liberation Sans", sans-serif' font-size="14.2" stroke="#111" stroke-width="0.3" stroke-linejoin="round" fill="#111">4.0</text>
<text transform="translate(332.70,449.50) scale(0.8,1)" text-anchor="end" font-family='"Liberation Sans", sans-serif' font-size="14.2" stroke="#111" stroke-width="0.3" stroke-linejoin="round" fill="#111">2.0</text>
<text transform="translate(332.70,488.70) scale(0.8,1)" text-anchor="end" font-family='"Liberation Sans", sans-serif' font-size="14.2" stroke="#111" stroke-width="0.3" stroke-linejoin="round" fill="#111">0.0</text>
<text transform="translate(332.70,527.90) scale(0.8,1)" text-anchor="end" font-family='"Liberation Sans", sans-serif' font-size="14.2" stroke="#111" stroke-width="0.3" stroke-linejoin="round" fill="#111">-2.0</text>
<text x="357.50" y="541.00" font-family='"Liberation Sans", sans-serif' font-size="14.2" stroke="#111" stroke-width="0.3" stroke-linejoin="round" fill="#111" textLength="29.04" lengthAdjust="spacingAndGlyphs">17-18</text>
<text x="422.20" y="541.00" font-family='"Liberation Sans", sans-serif' font-size="14.2" stroke="#111" stroke-width="0.3" stroke-linejoin="round" fill="#111" textLength="29.04" lengthAdjust="spacingAndGlyphs">18-19</text>
<text x="487.00" y="541.00" font-family='"Liberation Sans", sans-serif' font-size="14.2" stroke="#111" stroke-width="0.3" stroke-linejoin="round" fill="#111" textLength="29.04" lengthAdjust="spacingAndGlyphs">19-20</text>
<text x="15.46" y="586.00" font-family='"Liberation Sans", sans-serif' font-size="13.2" stroke="#111" stroke-width="0.3" stroke-linejoin="round" fill="#111" textLength="27.20" lengthAdjust="spacingAndGlyphs">GAR,</text>
<text x="46.70" y="586.00" font-family='"Liberation Sans", sans-serif' font-size="13.2" stroke="#111" stroke-width="0.3" stroke-linejoin="round" fill="#111" textLength="24.63" lengthAdjust="spacingAndGlyphs">WAR</text>
<text x="75.10" y="586.00" font-family='"Liberation Sans", sans-serif' font-size="13.2" stroke="#111" stroke-width="0.3" stroke-linejoin="round" fill="#111" textLength="26.58" lengthAdjust="spacingAndGlyphs">from</text>
<text x="105.02" y="586.00" font-family='"Liberation Sans", sans-serif' font-size="13.2" stroke="#111" stroke-width="0.3" stroke-linejoin="round" fill="#111" textLength="95.64" lengthAdjust="spacingAndGlyphs">EvolvingHockey;</text>
<text x="202.29" y="586.00" font-family='"Liberation Sans", sans-serif' font-size="13.2" stroke="#111" stroke-width="0.3" stroke-linejoin="round" fill="#111" textLength="36.97" lengthAdjust="spacingAndGlyphs">Points</text>
<text x="242.60" y="586.00" font-family='"Liberation Sans", sans-serif' font-size="13.2" stroke="#111" stroke-width="0.3" stroke-linejoin="round" fill="#111" textLength="26.38" lengthAdjust="spacingAndGlyphs">from</text>
<text x="272.27" y="586.00" font-family='"Liberation Sans", sans-serif' font-size="13.2" stroke="#111" stroke-width="0.3" stroke-linejoin="round" fill="#111" textLength="100.37" lengthAdjust="spacingAndGlyphs">NaturalStatTrick,</text>
<text x="374.29" y="586.00" font-family='"Liberation Sans", sans-serif' font-size="13.2" stroke="#111" stroke-width="0.3" stroke-linejoin="round" fill="#111" textLength="52.79" lengthAdjust="spacingAndGlyphs">Shooting</text>
<text x="430.00" y="586.00" font-family='"Liberation Sans", sans-serif' font-size="13.2" stroke="#111" stroke-width="0.3" stroke-linejoin="round" fill="#111" textLength="26.38" lengthAdjust="spacingAndGlyphs">from</text>
<text x="459.62" y="586.00" font-family='"Liberation Sans", sans-serif' font-size="13.2" stroke="#111" stroke-width="0.3" stroke-linejoin="round" fill="#111" textLength="64.28" lengthAdjust="spacingAndGlyphs">HockeyViz;</text>
<text x="525.75" y="586.00" font-family='"Liberation Sans", sans-serif' font-size="13.2" stroke="#111" stroke-width="0.3" stroke-linejoin="round" fill="#111" textLength="38.20" lengthAdjust="spacingAndGlyphs">Market</text>
<text x="567.30" y="586.00" font-family='"Liberation Sans", sans-serif' font-size="13.2" stroke="#111" stroke-width="0.3" stroke-linejoin="round" fill="#111" textLength="30.70" lengthAdjust="spacingAndGlyphs">Value</text>
<text x="601.90" y="586.00" font-family='"Liberation Sans", sans-serif' font-size="13.2" stroke="#111" stroke-width="0.3" stroke-linejoin="round" fill="#111" textLength="29.72" lengthAdjust="spacingAndGlyphs">from</text>
<text x="634.40" y="586.00" font-family='"Liberation Sans", sans-serif' font-size="13.2" stroke="#111" stroke-width="0.3" stroke-linejoin="round" fill="#111" textLength="24.95" lengthAdjust="spacingAndGlyphs">Dom</text>
<text x="663.04" y="586.00" font-family='"Liberation Sans", sans-serif' font-size="13.2" stroke="#111" stroke-width="0.3" stroke-linejoin="round" fill="#111" textLength="71.59" lengthAdjust="spacingAndGlyphs">Luszczyszyn</text>
<text x="756.46" y="586.00" font-family='"Liberation Sans", sans-serif' font-size="13.2" stroke="#111" stroke-width="0.3" stroke-linejoin="round" fill="#111" textLength="14.47" lengthAdjust="spacingAndGlyphs">by</text>
<text x="773.64" y="586.00" font-family='"Liberation Sans", sans-serif' font-size="13.2" stroke="#111" stroke-width="0.3" stroke-linejoin="round" fill="#111" textLength="103.41" lengthAdjust="spacingAndGlyphs">@JFreshHockey</text>
</svg>
</body></html>
